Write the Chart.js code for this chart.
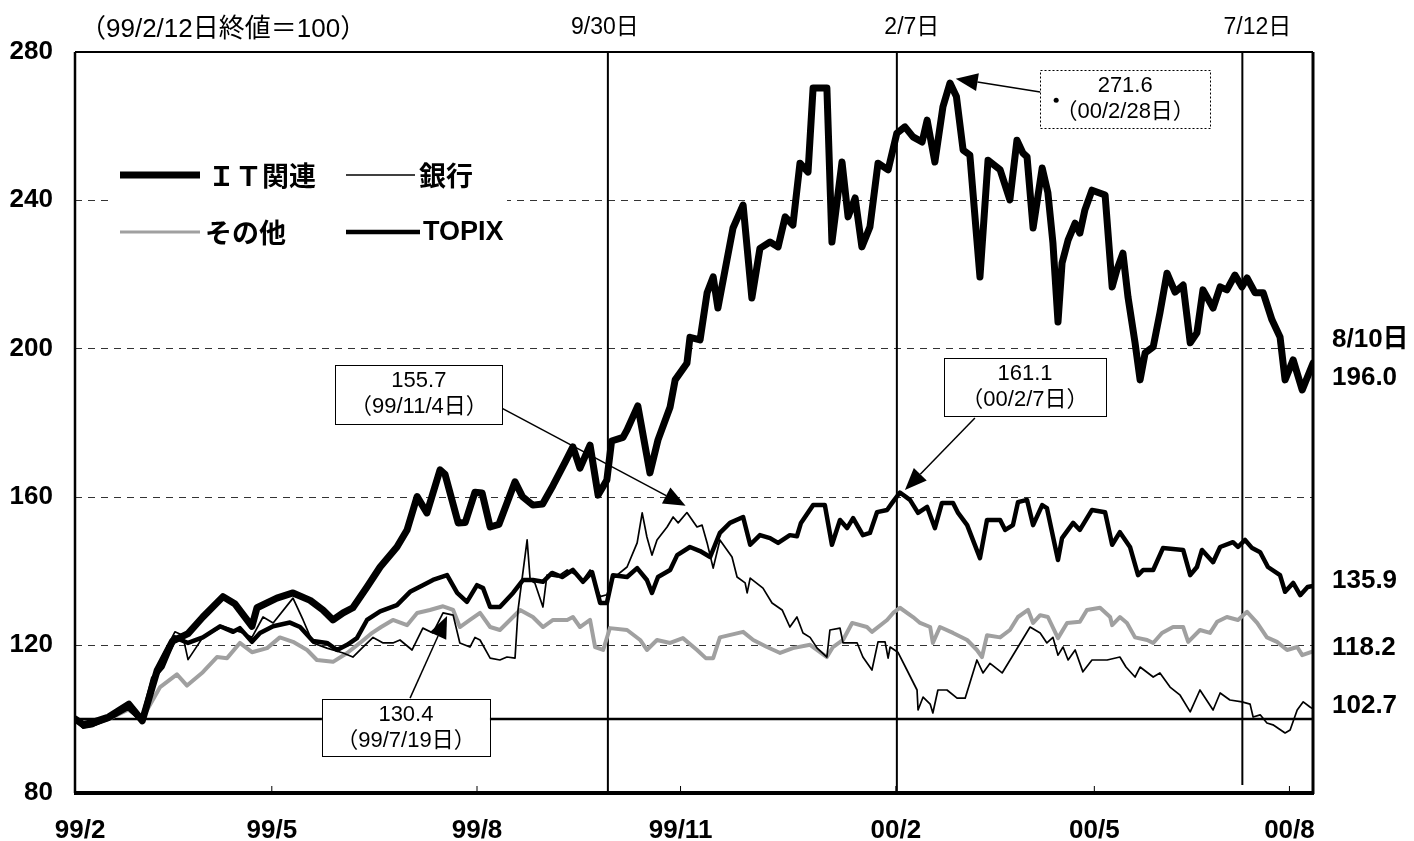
<!DOCTYPE html>
<html>
<head>
<meta charset="utf-8">
<script src="https://cdn.jsdelivr.net/npm/chart.js@4.4.0/dist/chart.umd.min.js"></script>
<style>
  html, body { margin: 0; padding: 0; background: #fff; }
</style>
</head>
<body>
<canvas id="chart" width="1414" height="841"></canvas>
<script>
// index, 99/2/12 close = 100. x = trading day since 99/2/12
const xTickDays = [1.5, 58.5, 119.5, 180, 244, 303, 361];
const xTickLabels = ["99/2", "99/5", "99/8", "99/11", "00/2", "00/5", "00/8"];
const eventDays = [158.4, 244.3, 347];
const eventLabels = ["9/30日", "2/7日", "7/12日"];
const gridValues = [120, 160, 200, 240];

// IT関連
const itPoints = [
  [0,100],[2.4,98.5],[5,99],[10,100.5],[16,104],[20,99.5],[24.4,113],[29,121],[33.6,123],[38,127.5],
  [44,133],[47.6,131],[52.6,125],[54.1,130],[60,132.6],[64.8,134],[69.9,132],[73.7,129.4],[76.7,126.7],[79.7,128.6],
  [82.6,130],[86.8,135.6],[90.7,141],[95.7,146.4],[98.7,151],[101.7,160],[104.6,155.6],[108.5,167.2],[110,166],[113.9,152.9],
  [116,153],[118.9,161.2],[121,161],[123.4,151.8],[126,152.5],[130.8,164],[133,160],[136.1,157.7],[139,158],[142.1,163],
  [145.7,169.3],[148,173.4],[150.1,167.7],[153.1,173.9],[155.5,160.4],[158.1,164.5],[159.5,175],[162.9,176],[164.1,178],[167.3,184.5],
  [170.9,166.4],[173.3,175.3],[176.9,184.2],[178.4,191.5],[181.9,196],[182.8,203],[185.8,202.3],[187.9,215],[189.7,219.3],[191.1,210.9],
  [193.8,223.9],[195.6,232.5],[198.6,238.7],[201.2,213.6],[203.6,227],[206.6,228.7],[209,227.4],[211.1,235.5],[213.4,233.3],[215.5,250],
  [217.9,247.6],[219.4,270.3],[223.5,270.3],[225,228.7],[228,250.3],[229.8,235.5],[231.9,240.6],[233.9,227.4],[236.3,232.8],[238.7,250],
  [241.7,248.2],[244.3,258.1],[246.7,259.8],[249.1,257.1],[251.8,255.7],[253.3,261.6],[255.6,250.3],[258,265.2],[260.1,271.6],[262,268],
  [264,253.5],[266,252.2],[269,219.3],[271.4,250.8],[275,248.2],[277.9,240.1],[280,256.2],[281.8,252.7],[283,251.7],[284.8,232.5],
  [287.5,248.7],[289.2,242],[290.7,228.4],[292.2,207.1],[293.4,223],[295.2,229.2],[297.3,233.8],[298.7,231.1],[300.2,237.4],[302.3,242.7],
  [306.2,241.4],[308.3,216.6],[309.7,221.2],[311.5,225.7],[313,213.9],[315.1,201.5],[316.6,191.5],[318.1,198.8],[320.5,200.4],[322.5,209.6],
  [324.6,220.3],[327,215.2],[329.4,217.1],[331.5,201.5],[333.5,204.2],[335.3,215.8],[338.3,210.9],[340.4,216.6],[342.4,215.8],[344.8,219.8],
  [346.9,216.6],[348.4,219],[350.8,215],[353.2,215],[355.8,207.7],[358.2,203.1],[359.7,191.5],[362.1,196.9],[364.8,188.8],[368,196]
];

// TOPIX
const topixPoints = [
  [0,100],[2.4,98],[5.4,98.5],[10,100],[15.8,103],[19.9,99.5],[23.2,111],[26,114],[29.7,122],[33.6,120.5],
  [38,122],[43.1,125],[47,123.5],[49,124.5],[52.6,120.8],[55,123.2],[58.9,125],[63.9,126],[66.9,124.8],[70.7,121],
  [74.9,120.5],[77.9,118.6],[80.9,120],[83.8,121.8],[86.8,126.7],[90.7,129],[95.7,130.7],[99.6,134.3],[103.4,136.1],[106.4,137.5],
  [110.6,138.8],[113.6,134],[116.5,131.6],[119.5,136.1],[121.3,135.3],[123.4,130.2],[126.3,130.2],[130.2,134],[133.2,137.5],[136.1,137.5],
  [139.1,137],[141.8,139.4],[144.8,138.3],[148,140.2],[151,137],[153.7,139.6],[156.1,131.3],[158.1,131.3],[159.9,138.8],[164.1,138.3],
  [167.1,140.7],[170,137.5],[171.5,134],[173.3,138.3],[176.9,140.2],[179,144.2],[182.8,146.4],[185.8,145.3],[188.8,143.7],[191.7,150.2],
  [194.7,152.9],[198.6,154.5],[200.7,147],[203.6,149.6],[206.6,148.8],[209,147.5],[212.5,149.6],[214.6,149.3],[215.8,152.9],[219.4,157.7],
  [222.9,157.7],[225,147],[227.4,153.7],[229.5,151.5],[231.3,154.2],[234.2,149.6],[236.3,150.2],[238.4,155.8],[241.4,156.4],[242.9,158.3],
  [245.2,161.1],[248.2,159.1],[250.6,155.6],[253.3,157.2],[255.6,151.5],[257.7,158.3],[261,158.3],[262.5,155.6],[265.2,152.3],[269,143.4],
  [271.1,153.7],[275,153.7],[276.5,151],[278.8,152.3],[280.3,158.5],[283,159.1],[284.8,152.3],[287.5,157.7],[288.9,156.9],[292.2,142.9],
  [293.4,148.8],[296.7,152.9],[298.7,151],[302.3,156.4],[306.2,155.8],[308.3,147],[310.6,150.4],[313.6,146.4],[316,138.8],[317.5,140.2],
  [320.5,140.2],[323.4,146.1],[329.4,145.6],[331.5,138.8],[333.5,141],[335,145.6],[338.3,142.3],[340.4,146.4],[344.2,147.7],[345.7,146.4],
  [347.8,148.3],[349.9,146.1],[352.3,145],[354.6,141],[358.2,138.8],[359.7,134.3],[362.1,136.7],[364.2,133.4],[366.4,135.6],[368,135.9]
];

// 銀行
const bankPoints = [
  [0,100],[2.4,97.5],[5.4,98],[10,100],[15.8,103],[19.9,99],[23.2,110],[26,117],[29.7,123.5],[32,122.6],
  [33.6,116],[38,122],[44,125],[49,123.5],[52.6,122],[55.9,127.5],[58.9,125.9],[64.8,132.6],[67.8,126.7],[70.7,120.5],
  [74.9,119.1],[79.7,117.8],[82.6,116.7],[85.6,119.4],[88.6,122],[91.6,120.5],[94.5,120.5],[96.6,121.3],[100.2,118.6],[103.4,124.5],
  [106.4,123.2],[109.4,128.6],[112.4,128],[114.4,120.5],[117.4,119.4],[118.9,122],[120.4,121.3],[123.4,116.4],[126.3,115.9],[128.4,116.7],
  [130.8,116.4],[131.7,129.4],[134.4,148.3],[135.3,137.5],[136.7,136.7],[139.1,130.2],[140.3,138.8],[143.3,138.3],[146.3,140.2],[149.2,138.8],
  [151,137.5],[153.1,140.2],[156.1,133],[158.1,133.5],[160,138],[164.1,141],[167.1,147.5],[168.6,155.6],[170,149.1],[171.5,144.2],
  [173,148.3],[176,151.8],[177.8,154.5],[179.3,152.9],[181.9,155.7],[184.9,151.8],[186.4,152.3],[187.9,147.5],[189.7,140.7],[191.7,148.3],
  [195.3,143.7],[196.8,138.3],[199.2,136.7],[199.8,134],[200.7,138],[204.5,135.3],[207.2,131.3],[210.2,129.4],[212.5,124.8],[214.6,127.5],
  [216.4,123.2],[218.5,122],[220.6,119.1],[223.5,116.7],[224.4,124],[227.4,124.5],[228.3,120.5],[232.5,120.5],[234.2,116.7],[236.9,113.2],
  [238.7,120.8],[240.8,120.8],[241.7,116.4],[242.3,119.4],[244.6,118],[247.3,113.2],[250.3,107.8],[250.6,102.4],[252.1,105.9],[254.2,104],
  [255,101.6],[256.5,107.8],[259.2,107.8],[262.2,105.6],[264.6,105.6],[266,109.7],[268.1,115.9],[269.9,112.4],[272,115],[275.6,112.4],
  [278.5,116.7],[280.3,119.4],[283.9,124.8],[286.9,123.2],[288.9,120.5],[290.7,122],[292.2,117.2],[293.7,119.4],[295.2,115.9],[297.3,118.6],
  [299.6,112.7],[302.3,115.9],[306.8,115.9],[310.6,116.7],[312.4,114],[315.1,111.3],[316.6,114],[320.5,111.3],[322.5,112.4],[325.5,108.6],
  [328.5,106.4],[331.5,101.9],[334.4,107.8],[338.3,102.4],[340.4,107],[343.3,105.1],[346.9,104.6],[349.3,104],[350.2,100.5],[352.3,101.1],
  [354.3,98.9],[356.1,98.4],[359.7,96.2],[361.2,97],[363.3,102.4],[365.1,104.6],[367.1,103.2],[368,102.7]
];

// その他
const otherPoints = [
  [0,100],[2.4,98.5],[5.4,98.5],[10,100],[15.8,102.5],[19.9,100],[25.3,108.6],[30.3,112],[33.3,109],[38,112.6],
  [42.2,116.7],[45.2,116.4],[49,120.5],[52.6,118],[57.1,119.1],[60.9,122],[64.8,120.8],[69,118.6],[71.9,115.9],[76.7,115.4],
  [80.9,117.8],[84.7,120.5],[88,123],[91,124.8],[94.5,126.7],[98.7,125.3],[101.7,128.6],[105.5,129.4],[109.4,130.4],[112.4,129.4],
  [114.4,124.8],[117.4,126.7],[120.4,128.6],[123.4,124.8],[126.3,124],[129.3,126.7],[132.3,129.4],[136.1,127.5],[139.1,124.8],[142.1,126.7],
  [146.3,126.7],[148,127.5],[150.1,124.8],[153.1,126.7],[154.6,119.4],[157,118.6],[159,124.5],[164.1,124],[168,121.3],[170,118.6],
  [173,121.3],[176.9,120.5],[180.7,121.8],[184.9,118.6],[187.5,116.4],[189.7,116.4],[191.7,122],[198.6,123.5],[201.6,121.3],[205.7,119.4],
  [209.6,117.8],[213.4,119.1],[218.5,120],[223.5,116.7],[225.3,119.4],[228.3,121.3],[231,125.9],[235.4,124.8],[236.9,123.5],[241.4,126.7],
  [243.2,128.6],[245.2,130],[249.1,127.5],[251.2,125.9],[254.2,124.8],[255,120.5],[257.1,124.8],[261,123.2],[265.2,121.3],[268.1,118.6],
  [269.6,116.7],[271.1,122.6],[275,122],[277.9,124],[280.3,127.5],[283.3,129.4],[284.8,125.9],[286.9,128],[289.2,127.5],[292.2,121.8],
  [294.9,125.9],[298.7,126.2],[300.8,129.4],[304.7,130],[307.7,127.5],[308.3,125.3],[310.6,127.5],[312.7,125.9],[315.1,122],[318.7,121.3],
  [320.5,120.5],[323.1,123.2],[326.4,124.8],[329.4,124.8],[330.9,120.8],[334.4,124],[337.4,123.2],[339.5,126.2],[342.4,127.5],[345.7,126.7],
  [348.4,128.9],[351.4,125.9],[354.3,122],[357.3,120.8],[360.3,118.6],[363.3,119.4],[364.8,117.2],[368,118.2]
];

const endLabels = ["8/10日", "196.0", "135.9", "118.2", "102.7"];

const NUM = "'Liberation Sans','Noto Sans CJK JP',sans-serif";
const JP = "'Noto Sans CJK JP','Liberation Sans',sans-serif";

const toXY = pts => pts.map(p => ({ x: p[0], y: p[1] }));

// callout boxes: box = [left day, top value, width px, height px]
const callouts = [
  { text: ["271.6", "（00/2/28日）"], box: [286.9, 275.1, 170, 58], from: [286.9, 269.2], to: [261.8, 272.8], dashed: true, dot: true },
  { text: ["161.1", "（00/2/7日）"], box: [258.3, 197.4, 162, 58], from: [267.5, 181.2], to: [246.7, 161.8] },
  { text: ["155.7", "（99/11/4日）"], box: [77.4, 195.5, 167, 59], from: [127, 183.8], to: [181.5, 157.5] },
  { text: ["130.4", "（99/7/19日）"], box: [73.4, 105.4, 168, 57], from: [99.6, 105.6], to: [110.6, 127.8] }
];

function seg(ctx, x1, y1, x2, y2) {
  ctx.beginPath(); ctx.moveTo(x1, y1); ctx.lineTo(x2, y2); ctx.stroke();
}

function arrow(ctx, x1, y1, x2, y2) {
  const ang = Math.atan2(y2 - y1, x2 - x1);
  const len = 22, half = 9;
  const bx = x2 - len * Math.cos(ang), by = y2 - len * Math.sin(ang);
  ctx.lineWidth = 1.5;
  seg(ctx, x1, y1, bx, by);
  ctx.beginPath();
  ctx.moveTo(x2, y2);
  ctx.lineTo(bx + half * Math.sin(ang), by - half * Math.cos(ang));
  ctx.lineTo(bx - half * Math.sin(ang), by + half * Math.cos(ang));
  ctx.closePath();
  ctx.fill();
}

const decorPlugin = {
  id: 'decor',
  beforeDatasetsDraw(chart) {
    const { ctx, chartArea: a, scales: { x, y } } = chart;
    ctx.save();
    ctx.strokeStyle = '#333';
    ctx.lineWidth = 1;
    ctx.setLineDash([7, 6]);
    gridValues.forEach(v => {
      const py = Math.round(y.getPixelForValue(v)) + 0.5;
      seg(ctx, a.left, py, a.right, py);
    });
    ctx.setLineDash([]);
    // legend backdrop hides the grid line
    ctx.fillStyle = '#fff';
    ctx.fillRect(112, 150, 395, 105);
    // 100 line
    ctx.strokeStyle = '#000';
    ctx.lineWidth = 2.5;
    const p100 = y.getPixelForValue(100);
    seg(ctx, a.left, p100, a.right, p100);
    // event lines
    ctx.lineWidth = 2;
    eventDays.forEach((d, i) => {
      const px = x.getPixelForValue(d);
      seg(ctx, px, a.top, px, i === 2 ? a.bottom - 8 : a.bottom);
    });
    // small tick marks
    ctx.lineWidth = 1;
    xTickDays.slice(1).forEach(d => {
      const px = x.getPixelForValue(d);
      seg(ctx, px, a.bottom - 7, px, a.bottom);
    });
    ctx.restore();
  },
  afterDatasetsDraw(chart) {
    const { ctx, chartArea: a, scales: { x, y } } = chart;
    ctx.save();
    ctx.strokeStyle = '#000';
    ctx.fillStyle = '#000';
    // frame
    ctx.lineWidth = 2;
    seg(ctx, a.left, a.top, a.right, a.top);
    ctx.lineWidth = 2.5;
    seg(ctx, a.left, a.top, a.left, a.bottom);
    ctx.lineWidth = 3;
    seg(ctx, a.right, a.top, a.right, a.bottom + 1);
    ctx.lineWidth = 4;
    seg(ctx, a.left - 1, a.bottom, a.right + 1, a.bottom);

    // header texts
    ctx.textBaseline = 'middle';
    ctx.textAlign = 'left';
    ctx.font = `26px ${NUM}`;
    ctx.fillText('（99/2/12日終値＝100）', 80, 30);
    ctx.textAlign = 'center';
    ctx.font = `23px ${NUM}`;
    const evOffsets = [-3, 15, 15];
    eventDays.forEach((d, i) => {
      ctx.fillText(eventLabels[i], x.getPixelForValue(d) + evOffsets[i], 28);
    });

    // right-side end values
    ctx.textAlign = 'left';
    ctx.font = `bold 26px ${NUM}`;
    const endY = [340, 378, 581, 648, 706];
    endLabels.forEach((t, i) => ctx.fillText(t, 1332, endY[i]));

    // legend
    ctx.lineCap = 'butt';
    ctx.lineWidth = 7;
    seg(ctx, 120, 175, 200, 175);
    ctx.lineWidth = 1.5;
    seg(ctx, 346, 175, 415, 175);
    ctx.strokeStyle = '#a0a0a0';
    ctx.lineWidth = 3;
    seg(ctx, 120, 232, 200, 232);
    ctx.strokeStyle = '#000';
    ctx.lineWidth = 4.5;
    seg(ctx, 346, 232, 420, 232);
    ctx.font = `bold 27px ${JP}`;
    ctx.fillText('ＩＴ関連', 208, 176);
    ctx.fillText('銀行', 419, 176);
    ctx.fillText('その他', 205, 233);
    ctx.font = `bold 27px ${NUM}`;
    ctx.fillText('TOPIX', 423, 233);

    // callouts
    callouts.forEach(c => {
      const bx = x.getPixelForValue(c.box[0]);
      const by = y.getPixelForValue(c.box[1]);
      const w = c.box[2], h = c.box[3];
      ctx.fillStyle = '#fff';
      ctx.fillRect(bx, by, w, h);
      ctx.strokeStyle = '#000';
      ctx.lineWidth = 1;
      ctx.setLineDash(c.dashed ? [2, 2] : []);
      ctx.strokeRect(Math.round(bx) + 0.5, Math.round(by) + 0.5, w, h);
      ctx.setLineDash([]);
      ctx.fillStyle = '#000';
      ctx.textAlign = 'center';
      ctx.font = `22px ${NUM}`;
      ctx.fillText(c.text[0], bx + w / 2, by + 16);
      ctx.fillText(c.text[1], bx + w / 2, by + 42);
      if (c.dot) {
        ctx.beginPath(); ctx.arc(bx + 16, by + 30, 2.5, 0, Math.PI * 2); ctx.fill();
      }
      arrow(ctx, x.getPixelForValue(c.from[0]), y.getPixelForValue(c.from[1]),
        x.getPixelForValue(c.to[0]), y.getPixelForValue(c.to[1]));
    });
    ctx.restore();
  }
};

new Chart(document.getElementById('chart'), {
  type: 'line',
  data: {
    datasets: [
      { label: 'ＩＴ関連', data: toXY(itPoints), borderColor: '#000', borderWidth: 7 },
      { label: 'TOPIX', data: toXY(topixPoints), borderColor: '#000', borderWidth: 4.5 },
      { label: '銀行', data: toXY(bankPoints), borderColor: '#000', borderWidth: 1.7 },
      { label: 'その他', data: toXY(otherPoints), borderColor: '#a0a0a0', borderWidth: 4 }
    ]
  },
  options: {
    responsive: false,
    animation: false,
    devicePixelRatio: 1,
    layout: { padding: { top: 52, right: 101, left: 0, bottom: 0 } },
    elements: {
      point: { radius: 0 },
      line: { tension: 0, borderJoinStyle: 'round', borderCapStyle: 'round' }
    },
    plugins: { legend: { display: false }, tooltip: { enabled: false } },
    scales: {
      x: {
        type: 'linear', min: 0, max: 368,
        afterBuildTicks: s => { s.ticks = xTickDays.map(v => ({ value: v })); },
        afterFit: s => { s.height = 48; },
        grid: { display: false },
        border: { display: false },
        ticks: {
          autoSkip: false, maxRotation: 0, padding: 14, color: '#000',
          font: { family: NUM, size: 26, weight: 'bold' },
          callback: v => xTickLabels[xTickDays.indexOf(v)] ?? ''
        }
      },
      y: {
        min: 80, max: 280,
        afterFit: s => { s.width = 75; },
        grid: { display: false, drawTicks: false },
        border: { display: false },
        ticks: {
          stepSize: 40, padding: 22, color: '#000',
          font: { family: NUM, size: 26, weight: 'bold' }
        }
      }
    }
  },
  plugins: [decorPlugin]
});
</script>
</body>
</html>
